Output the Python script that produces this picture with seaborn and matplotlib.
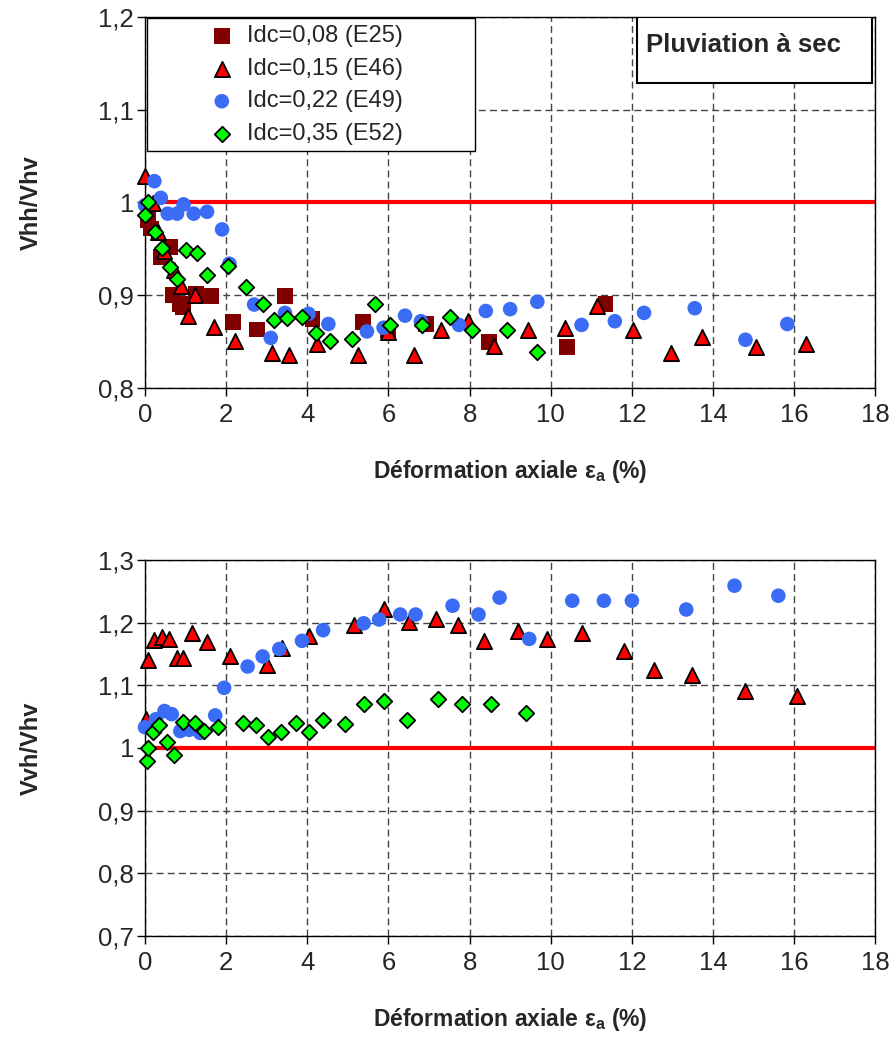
import matplotlib
matplotlib.use("Agg")
import matplotlib.pyplot as plt
from matplotlib.patches import Rectangle
from matplotlib.ticker import FuncFormatter, MultipleLocator
import seaborn as sns

# --- top panel: Vhh/Vhv ---
top_e25_x = [0.07, 0.15, 0.39, 0.62, 0.68, 0.87, 0.93, 1.26, 1.64, 2.16, 2.76, 3.46, 4.13, 5.38, 5.98, 6.92, 8.48, 10.41, 11.35]
top_e25_y = [0.981, 0.972, 0.941, 0.952, 0.900, 0.891, 0.887, 0.901, 0.899, 0.871, 0.863, 0.899, 0.874, 0.871, 0.862, 0.869, 0.850, 0.844, 0.891]

top_e46_x = [0.0, 0.19, 0.31, 0.48, 0.72, 0.89, 1.05, 1.24, 1.71, 2.22, 3.13, 3.55, 4.24, 5.26, 5.99, 6.63, 7.29, 7.95, 8.59, 9.44, 10.34, 11.13, 12.03, 12.97, 13.74, 15.07, 16.28]
top_e46_y = [1.029, 0.999, 0.968, 0.948, 0.927, 0.910, 0.878, 0.900, 0.866, 0.851, 0.838, 0.836, 0.847, 0.836, 0.860, 0.836, 0.863, 0.872, 0.845, 0.863, 0.865, 0.888, 0.863, 0.838, 0.855, 0.844, 0.847]

top_e49_x = [0.0, 0.23, 0.39, 0.56, 0.79, 0.95, 1.20, 1.53, 1.90, 2.08, 2.69, 3.10, 3.45, 4.03, 4.52, 5.47, 5.88, 6.41, 6.80, 7.74, 8.40, 9.00, 9.67, 10.76, 11.58, 12.30, 13.55, 14.80, 15.83]
top_e49_y = [0.997, 1.023, 1.005, 0.988, 0.988, 0.998, 0.988, 0.990, 0.971, 0.934, 0.890, 0.854, 0.881, 0.880, 0.869, 0.861, 0.865, 0.878, 0.872, 0.868, 0.883, 0.885, 0.893, 0.868, 0.872, 0.881, 0.886, 0.852, 0.869]

top_e52_x = [0.0, 0.07, 0.25, 0.42, 0.62, 0.80, 1.01, 1.28, 1.54, 2.05, 2.49, 2.92, 3.17, 3.51, 3.86, 4.21, 4.56, 5.09, 5.67, 6.04, 6.82, 7.51, 8.07, 8.93, 9.66]
top_e52_y = [0.987, 1.000, 0.968, 0.951, 0.930, 0.918, 0.949, 0.946, 0.922, 0.932, 0.909, 0.891, 0.873, 0.875, 0.877, 0.859, 0.851, 0.853, 0.891, 0.868, 0.868, 0.877, 0.862, 0.862, 0.839]

# --- bottom panel: Vvh/Vhv ---
bot_e46_x = [0.02, 0.07, 0.23, 0.41, 0.60, 0.79, 0.94, 1.15, 1.53, 2.09, 3.00, 3.37, 4.05, 5.14, 5.88, 6.51, 7.17, 7.72, 8.36, 9.20, 9.92, 10.78, 11.81, 12.54, 13.49, 14.80, 16.06]
bot_e46_y = [1.046, 1.141, 1.172, 1.177, 1.174, 1.144, 1.144, 1.183, 1.169, 1.147, 1.133, 1.160, 1.179, 1.197, 1.222, 1.201, 1.206, 1.196, 1.171, 1.186, 1.174, 1.183, 1.154, 1.124, 1.116, 1.091, 1.083]

bot_e49_x = [0.0, 0.27, 0.48, 0.66, 0.87, 1.09, 1.36, 1.73, 1.95, 2.53, 2.90, 3.31, 3.87, 4.39, 5.39, 5.77, 6.29, 6.67, 7.58, 8.22, 8.74, 9.47, 10.53, 11.31, 12.00, 13.34, 14.53, 15.61]
bot_e49_y = [1.033, 1.046, 1.059, 1.054, 1.027, 1.029, 1.024, 1.052, 1.096, 1.130, 1.146, 1.158, 1.171, 1.188, 1.199, 1.205, 1.213, 1.213, 1.227, 1.213, 1.240, 1.174, 1.235, 1.235, 1.235, 1.221, 1.259, 1.243]

bot_e52_x = [0.04, 0.08, 0.19, 0.34, 0.54, 0.72, 0.93, 1.24, 1.45, 1.79, 2.41, 2.73, 3.02, 3.35, 3.71, 4.03, 4.38, 4.93, 5.40, 5.88, 6.47, 7.22, 7.81, 8.54, 9.40]
bot_e52_y = [0.979, 1.000, 1.025, 1.037, 1.009, 0.989, 1.041, 1.040, 1.027, 1.034, 1.040, 1.037, 1.017, 1.026, 1.040, 1.026, 1.044, 1.039, 1.070, 1.075, 1.044, 1.078, 1.070, 1.070, 1.056]

labels = ["Idc=0,08 (E25)", "Idc=0,15 (E46)", "Idc=0,22 (E49)", "Idc=0,35 (E52)"]

sns.set_theme(style="white")
plt.rcParams["font.family"] = ["Liberation Sans", "DejaVu Sans"]
plt.rcParams["mathtext.fontset"] = "custom"
plt.rcParams["mathtext.bf"] = "Liberation Sans:bold"
plt.rcParams["mathtext.rm"] = "Liberation Sans"

# marker styles per series
sty = {
    "E25": dict(marker="s", color="#800000", s=130, edgecolor="none", linewidth=0),
    "E46": dict(marker="^", color="#ff0000", s=120, edgecolor="black", linewidth=1.3),
    "E49": dict(marker="o", color="#3b6cf6", s=110, edgecolor="none", linewidth=0),
    "E52": dict(marker="D", color="#00ff00", s=62, edgecolor="black", linewidth=1.3),
}

fig = plt.figure(figsize=(8.95, 10.43), dpi=100)
ax1 = fig.add_axes([0.162, 0.628, 0.816, 0.3557])
ax2 = fig.add_axes([0.162, 0.1026, 0.816, 0.3605])

xlab = r"Déformation axiale $\mathbf{ε_a}$ (%)"
fmt = FuncFormatter(lambda v, p: f"{v:.10g}".replace(".", ","))


def style_ax(ax, ylo, yhi, ylabel):
    ax.set_xlim(0, 18)
    ax.set_ylim(ylo, yhi)
    ax.xaxis.set_major_locator(MultipleLocator(2))
    ax.yaxis.set_major_locator(MultipleLocator(0.1))
    ax.yaxis.set_major_formatter(fmt)
    ax.grid(True, color="#444444", linestyle=(0, (5, 3)), linewidth=1.0)
    ax.set_axisbelow(True)
    for sp in ax.spines.values():
        sp.set_color("black")
        sp.set_linewidth(1.0)
    ax.tick_params(direction="out", length=6, width=1, color="black",
                   labelsize=18.5, bottom=True, left=True)
    ax.tick_params(axis="x", pad=5)
    ax.tick_params(axis="y", pad=2)
    ax.set_xlabel(xlab, fontsize=16.5, fontweight="bold", labelpad=22)
    ax.set_ylabel(ylabel, fontsize=17, fontweight="bold", labelpad=40)
    ax.axhline(1.0, color="red", linewidth=3, zorder=1.5)


style_ax(ax1, 0.8, 1.2, "Vhh/Vhv")
style_ax(ax2, 0.7, 1.3, "Vvh/Vhv")

top_sets = [(top_e25_x, top_e25_y, "E25"), (top_e46_x, top_e46_y, "E46"),
            (top_e49_x, top_e49_y, "E49"), (top_e52_x, top_e52_y, "E52")]
for (xs, ys, key), lab in zip(top_sets, labels):
    sns.scatterplot(x=xs, y=ys, ax=ax1, label=lab, zorder=3, clip_on=False, **sty[key])

bot_sets = [(bot_e46_x, bot_e46_y, "E46"), (bot_e49_x, bot_e49_y, "E49"),
            (bot_e52_x, bot_e52_y, "E52")]
for xs, ys, key in bot_sets:
    sns.scatterplot(x=xs, y=ys, ax=ax2, zorder=3, clip_on=False, **sty[key])

# legend (frame drawn separately, content placed like the original)
ax1.add_patch(Rectangle((0.003, 0.639), 0.449, 0.358, transform=ax1.transAxes,
                        facecolor="white", edgecolor="black", linewidth=1.0, zorder=4))
leg = ax1.legend(loc="upper left", bbox_to_anchor=(0.089, 0.978), frameon=False,
                 fontsize=17, borderpad=0, handlelength=1.0, handletextpad=0.55,
                 labelspacing=0.45, borderaxespad=0)
leg.set_zorder(5)

# "Pluviation à sec" box
ax1.add_patch(Rectangle((0.674, 0.822), 0.322, 0.178, transform=ax1.transAxes,
                        facecolor="white", edgecolor="black", linewidth=1.5, zorder=4))
ax1.text(0.686, 0.905, "Pluviation à sec", transform=ax1.transAxes, fontsize=18.5,
         fontweight="bold", va="baseline", ha="left", zorder=5)

fig.savefig("out.png", dpi=100, facecolor="white")
